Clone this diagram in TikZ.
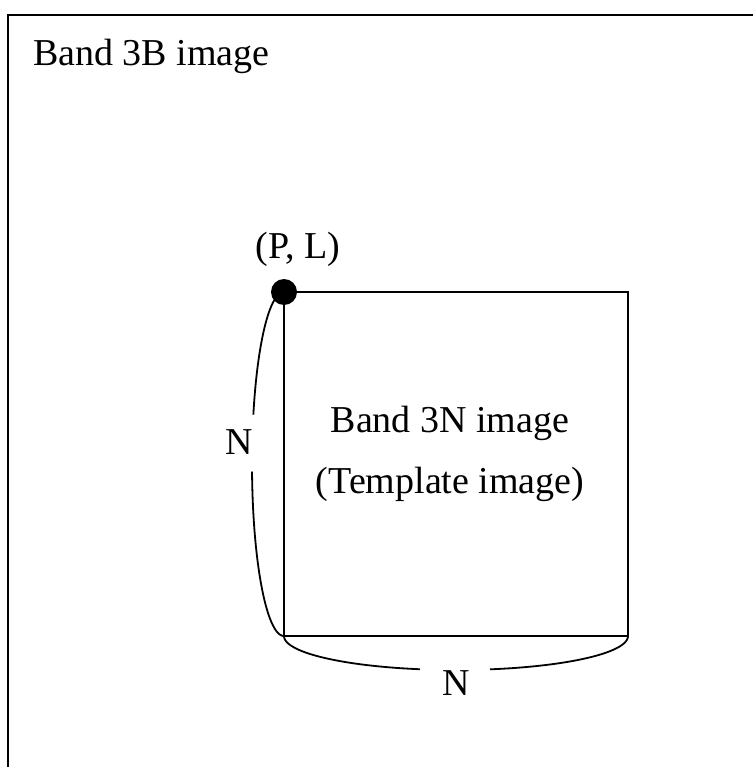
\documentclass[tikz,border=0pt]{standalone}
\usepackage{fontspec}
\setmainfont{Liberation Serif}
\begin{document}
\begin{tikzpicture}[x=1pt,y=-1pt,
  lbl/.style={inner sep=0pt, font=\fontsize{38}{45}\selectfont},
  frame/.style={line width=2.6pt},
  brace/.style={line width=1.8pt}]
\useasboundingbox (0,0) rectangle (753,767);
% outer image border (only top and left visible)
\draw[frame, line join=miter] (8,767) -- (8,15) -- (753,15);
\node[lbl, anchor=base west] (b3b) at (33,66) {Band 3B image};
% template square
\coordinate (TL) at (284,292);
\coordinate (TR) at (628,292);
\coordinate (BR) at (628,636);
\coordinate (BL) at (284,636);
\draw[frame, line join=miter] (TL) -- (TR) -- (BR) -- (BL) -- cycle;
\node[lbl, anchor=base] (t1) at (450,432) {Band 3N image};
\node[lbl, anchor=base] (t2) at (450,493) {(Template image)};
% left brace
\draw[brace] plot[domain=0:73.3, samples=60, smooth] ({284-32*sin(\x)},{464-172*cos(\x)});
\draw[brace] plot[domain=92.5:180, samples=60, smooth] ({284-32*sin(\x)},{464-172*cos(\x)});
\node[lbl, anchor=base] (nl) at (239,454) {N};
% bottom brace
\draw[brace] plot[domain=0:77.9, samples=60, smooth] ({456-172*cos(\x)},{636+34*sin(\x)});
\draw[brace] plot[domain=101.4:180, samples=60, smooth] ({456-172*cos(\x)},{636+34*sin(\x)});
\node[lbl, anchor=base] (nb) at (456,695) {N};
% corner point
\fill (TL) circle[radius=13pt];
\node[lbl, anchor=base] (pl) at (298,258) {(P, L)};
\end{tikzpicture}
\end{document}
